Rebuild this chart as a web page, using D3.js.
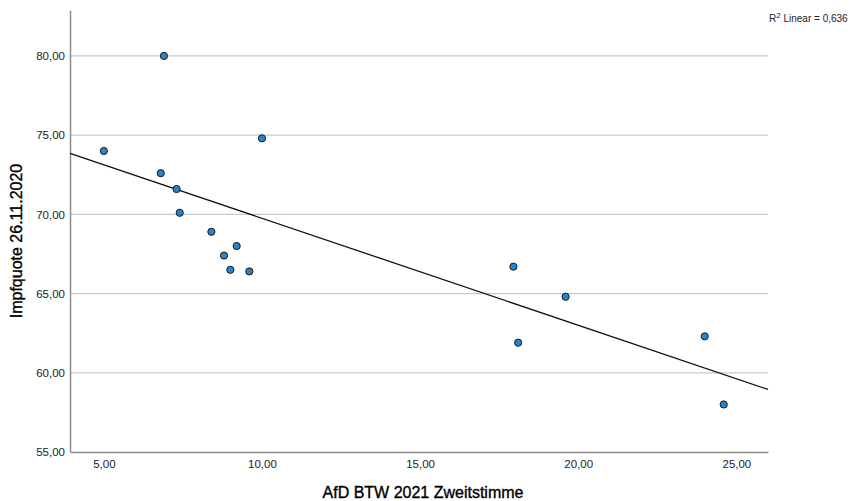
<!DOCTYPE html>
<html>
<head>
<meta charset="utf-8">
<script src="https://cdn.jsdelivr.net/npm/d3@7"></script>
<style>
  body { margin: 0; background: #fff; }
  text { font-family: "Liberation Sans", Arial, sans-serif; fill: #222; }
</style>
</head>
<body>
<div id="chart"></div>
<script>
// AfD Zweitstimme (%) vs. Impfquote (%)
const afd = [5.0, 6.9, 6.8, 7.3, 7.4, 8.4, 8.8, 9.2, 9.0, 9.6, 10.0, 17.95, 18.1, 19.6, 24.0, 24.6];
const impf = [74.0, 80.0, 72.6, 71.6, 70.1, 68.9, 67.4, 68.0, 66.5, 66.4, 74.8, 66.7, 61.9, 64.8, 62.3, 58.0];
const xTicks = [5, 10, 15, 20, 25];
const yTicks = [55, 60, 65, 70, 75, 80];
const r2Label = "0,636";

const width = 860, height = 501;
const mLeft = 70, mRight = 768, mTop = 10, mBottom = 452;

const svg = d3.select("#chart").append("svg")
    .attr("width", width)
    .attr("height", height);

const x = d3.scaleLinear().domain([3.93, 26.0]).range([mLeft, mRight]);
const y = d3.scaleLinear().domain([55, 82.9]).range([mBottom, mTop]);

const fmt = d => d.toFixed(2).replace(".", ",");

// gridlines
svg.selectAll("line.grid")
    .data(yTicks.filter(d => d > 55))
    .enter().append("line")
    .attr("class", "grid")
    .attr("x1", mLeft).attr("x2", mRight)
    .attr("y1", d => y(d)).attr("y2", d => y(d))
    .attr("stroke", "#c8c8c8").attr("stroke-width", 1.2);

// axes
const yAxis = svg.append("g").attr("transform", `translate(${mLeft},0)`)
    .call(d3.axisLeft(y).tickValues(yTicks).tickFormat(fmt).tickSize(0).tickPadding(5));
const xAxis = svg.append("g").attr("transform", `translate(0,${mBottom})`)
    .call(d3.axisBottom(x).tickValues(xTicks).tickFormat(fmt).tickSize(0).tickPadding(8));
[yAxis, xAxis].forEach(g => {
    g.select(".domain").attr("stroke", "#8c8c8c").attr("stroke-width", 1.5);
    g.selectAll("text").style("font-size", "11.5px").attr("fill", "#222");
});

// regression line (least squares from the points)
const mx = d3.mean(afd), my = d3.mean(impf);
let sxy = 0, sxx = 0;
afd.forEach((v, i) => { sxy += (v - mx) * (impf[i] - my); sxx += (v - mx) * (v - mx); });
const slope = sxy / sxx, icpt = my - slope * mx;
const xd = x.domain();
svg.append("line")
    .attr("x1", x(xd[0])).attr("y1", y(icpt + slope * xd[0]))
    .attr("x2", x(xd[1])).attr("y2", y(icpt + slope * xd[1]))
    .attr("stroke", "#111").attr("stroke-width", 1.3);

// points
svg.selectAll("circle")
    .data(afd)
    .enter().append("circle")
    .attr("cx", d => x(d))
    .attr("cy", (d, i) => y(impf[i]))
    .attr("r", 3.6)
    .attr("fill", "#2a83c8")
    .attr("stroke", "#1a1a1a")
    .attr("stroke-width", 1);

// axis titles
svg.append("text")
    .attr("x", 423).attr("y", 498)
    .attr("text-anchor", "middle")
    .style("font-size", "16px").style("fill", "#000")
    .attr("stroke", "#000").attr("stroke-width", 0.35)
    .text("AfD BTW 2021 Zweitstimme");
svg.append("text")
    .attr("transform", "translate(22,241) rotate(-90)")
    .attr("text-anchor", "middle")
    .style("font-size", "16px").style("fill", "#000")
    .attr("stroke", "#000").attr("stroke-width", 0.35)
    .text("Impfquote 26.11.2020");

// R² label
const r2 = svg.append("text").attr("x", 769).attr("y", 22).style("font-size", "10px");
r2.append("tspan").text("R");
r2.append("tspan").attr("dy", -4).style("font-size", "8px").text("2");
r2.append("tspan").attr("dy", 4).text(" Linear = " + r2Label);
</script>
</body>
</html>
